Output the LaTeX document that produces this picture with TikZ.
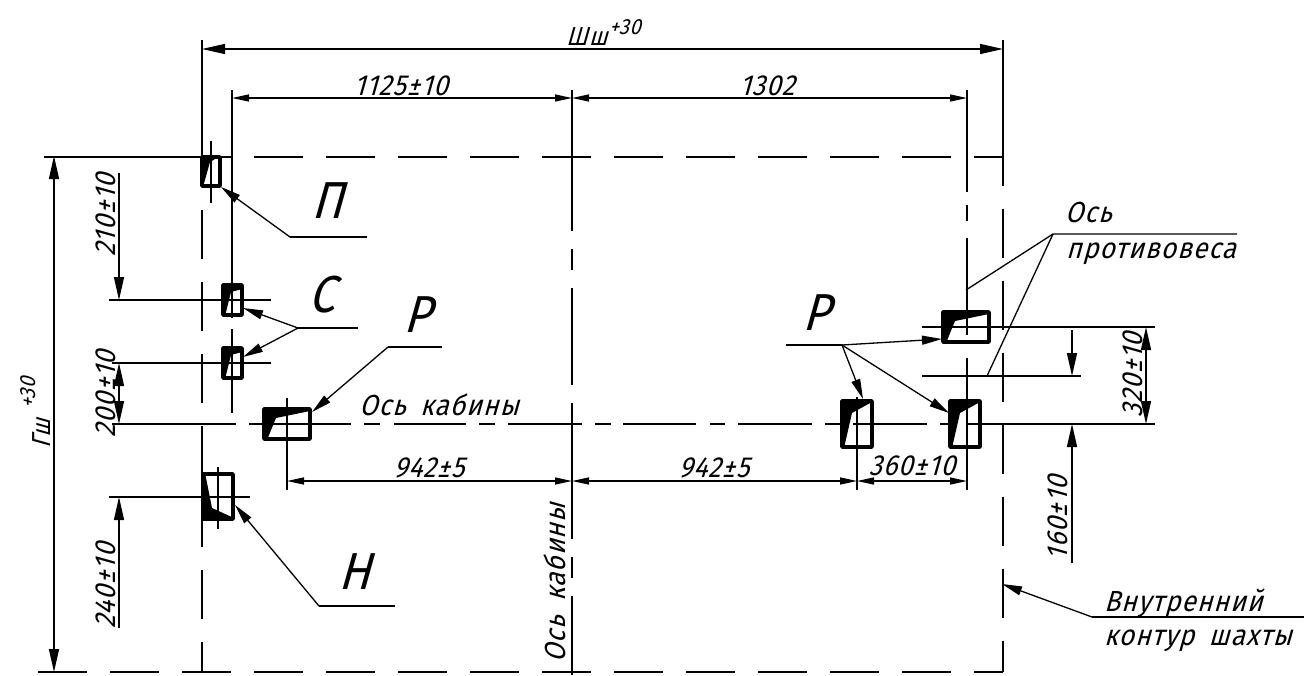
\documentclass[tikz,border=0pt]{standalone}
\usepackage{fontspec}
\usetikzlibrary{arrows.meta}
\newfontfamily\gost[FakeSlant=0.28,FakeStretch=0.9,WordSpace=1.8,LetterSpace=4]{Fira Sans}
\tikzset{
  x=1pt,y=-1pt,
  thinl/.style={line width=1.4pt,black},
  axisl/.style={line width=1.4pt,black},
  leader/.style={line width=1.3pt,black},
  boxl/.style={line width=3.5pt,line join=round,black},
  bigar/.style={line width=1.4pt,{Triangle[length=23pt,width=10pt]}-{Triangle[length=23pt,width=10pt]}},
  smallar/.style={line width=1.4pt,{Triangle[length=17pt,width=7pt]}-{Triangle[length=17pt,width=7pt]}},
  larr/.style={line width=1.3pt,-{Triangle[length=20pt,width=9pt]}},
  dimarr/.style={line width=1.4pt,-{Triangle[length=23pt,width=10pt]}},
  tx/.style={inner sep=0pt,anchor=base,font=\gost\fontsize{29}{31}\selectfont},
  suptx/.style={inner sep=0pt,anchor=base west,font=\gost\fontsize{22}{24}\selectfont},
  lab/.style={inner sep=0pt,anchor=base,font=\gost\fontsize{52}{54}\selectfont},
  vtx/.style={tx,rotate=90},
}
\begin{document}
\begin{tikzpicture}
\useasboundingbox (0,0) rectangle (1304,675);
% horizontal contour lines
\draw[thinl] (44,157) -- (231,157);
\draw[thinl,dash pattern=on 49pt off 23pt] (254,157) -- (1003,157);
\draw[thinl,dash pattern=on 49pt off 23pt] (38,672) -- (1003,672);
% vertical contour lines
\draw[thinl] (202,40) -- (202,138);
\draw[thinl,dash pattern=on 49pt off 23pt] (202,138) -- (202,672);
\draw[thinl] (1003,40) -- (1003,137);
\draw[thinl,dash pattern=on 49pt off 23pt] (1003,137) -- (1003,672);
% vertical axis 572
\foreach \a/\b in {90/231,249/270,288/385,403/539,557/578,596/675}
  \draw[axisl] (572,\a) -- (572,\b);
% axis 232
\foreach \a/\b in {90/318,329/413}
  \draw[axisl] (232,\a) -- (232,\b);
% axis 967
\foreach \a/\b in {90/192,205/221,238/335,358/490}
  \draw[axisl] (967,\a) -- (967,\b);
% horizontal axis
\foreach \a/\b in {112/236,249/351,364/380,394/466,479/495,508/582,595/611,623/696,710/725,738/812,825/840,853/927,940/955,968/1155}
  \draw[axisl] (\a,424) -- (\b,424);
% extension and centre lines
\draw[thinl] (109,300) -- (271,300);
\draw[thinl] (112,363) -- (271,363);
\draw[thinl] (109,497) -- (250,497);
\draw[thinl] (922,327) -- (1155,327);
\draw[thinl] (922,376) -- (1081,376);
\draw[thinl] (211,141) -- (211,203);
\draw[thinl] (218,467) -- (218,529);
\draw[thinl] (287,398) -- (287,490);
\draw[thinl] (857,397) -- (857,490);
% box fills and outlines
\fill (201,156) -- (220,156) -- (210,162) -- (203,187) -- (201,187) -- cycle;
\draw[boxl] (202,157) rectangle (220,186);
\foreach \d in {0,63}{
  \fill (222,284+\d) -- (243,284+\d) -- (242,289+\d) -- (231,292+\d) -- (225,316+\d) -- (222,316+\d) -- cycle;
  \draw[boxl] (223,285+\d) rectangle (242,315+\d);
}
\fill (263,408) -- (311,408) -- (310,411) -- (276,418) -- (267,440) -- (263,440) -- cycle;
\draw[boxl] (264,409) rectangle (310,439);
\fill (942,311) -- (990,311) -- (989,314) -- (955,321) -- (946,343) -- (942,343) -- cycle;
\draw[boxl] (943,312) rectangle (989,342);
\fill (202,473) -- (205,473) -- (212,508) -- (234,518) -- (234,520) -- (202,520) -- cycle;
\draw[boxl] (203,474) rectangle (233,519);
\foreach \d in {0,108}{
  \fill (841+\d,400) -- (873+\d,400) -- (872+\d,402) -- (852+\d,413) -- (844+\d,448) -- (841+\d,448) -- cycle;
  \draw[boxl] (842+\d,401) rectangle (872+\d,447);
}
% dimensions
\draw[bigar] (202,49) -- (1003,49);
\draw[smallar] (232,98) -- (572,98);
\draw[smallar] (572,98) -- (967,98);
\draw[smallar] (287,481) -- (572,481);
\draw[smallar] (572,481) -- (857,481);
\draw[smallar] (857,481) -- (967,481);
\draw[bigar] (54,156) -- (54,672);
\draw[dimarr] (119,173) -- (119,300);
\draw[bigar] (119,363) -- (119,424);
\draw[dimarr] (119,628) -- (119,497);
\draw[dimarr] (1072,330) -- (1072,376);
\draw[dimarr] (1072,563) -- (1072,424);
\draw[bigar] (1146,327) -- (1146,424);
% leaders
\draw[leader] (367,237) -- (290,237);
\draw[larr] (290,237) -- (221,187);
\draw[leader] (358,328) -- (298,328);
\draw[larr] (298,328) -- (243,308);
\draw[larr] (298,328) -- (243,357);
\draw[leader] (442,347) -- (388,347);
\draw[larr] (388,347) -- (312,412);
\draw[leader] (395,606) -- (319,606);
\draw[larr] (319,606) -- (235,505);
\draw[line width=1.8pt] (786,345) -- (842,345);
\draw[larr] (842,345) -- (942,339);
\draw[larr] (842,345) -- (863,399);
\draw[larr] (842,345) -- (949,413);
\draw[leader] (1237,234) -- (1053,234) -- (966,290);
\draw[leader] (1053,234) -- (987,376);
\draw[leader] (1304,617) -- (1092,617);
\draw[larr] (1092,617) -- (1002,584);
% texts
\node[tx,anchor=base west,font=\gost\fontsize{26}{28}\selectfont] (shL) at (566,45) {Шш};
\node[suptx] (shS) at (609,34) {+30};
\node[tx] (d1125) at (401,95) {1125±10};
\node[tx] (d1302) at (767,95) {1302};
\node[tx] (d942a) at (429,477) {942±5};
\node[tx] (d942b) at (714,477) {942±5};
\node[tx] (d360) at (912,475) {360±10};
\node[vtx] (d210) at (115,215) {210±10};
\node[vtx] (d200) at (115,394) {200±10};
\node[vtx] (d240) at (115,586) {240±10};
\node[vtx] (d320) at (1142,375) {320±10};
\node[vtx] (d160) at (1067,518) {160±10};
\node[vtx,anchor=base west,font=\gost\fontsize{26}{28}\selectfont] (gL) at (50,449) {Гш};
\node[suptx,rotate=90] (gS) at (35,409) {+30};
\node[vtx] (osK) at (565,583) {Ось кабины};
\node[tx] (osH) at (439,415) {Ось кабины};
\node[tx,anchor=base west] (os1) at (1065,222) {Ось};
\node[tx,anchor=base west] (os2) at (1066,258) {противовеса};
\node[tx,anchor=base west] (vn1) at (1104,611) {Внутренний};
\node[tx,anchor=base west] (vn2) at (1104,645) {контур шахты};
\node[lab] (lP) at (327,218) {П};
\node[lab] (lC) at (322,312) {С};
\node[lab] (lR1) at (417,332) {Р};
\node[lab] (lR2) at (816,330) {Р};
\node[lab] (lH) at (354,589) {Н};
\end{tikzpicture}
\end{document}
